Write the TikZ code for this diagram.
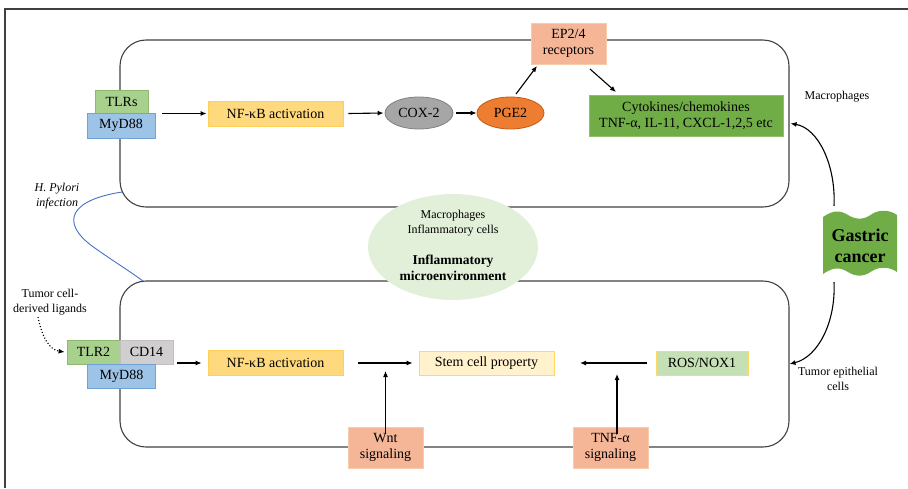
\documentclass[tikz,border=0pt]{standalone}
\usepackage{fontspec}
\setmainfont{Liberation Serif}
\usetikzlibrary{arrows.meta,shapes.geometric}
\definecolor{frameC}{HTML}{404040}
\definecolor{tlrG}{HTML}{A9D18E}
\definecolor{tlrGd}{HTML}{8DB870}
\definecolor{myB}{HTML}{9DC3E6}
\definecolor{myBd}{HTML}{6FA3D8}
\definecolor{nfY}{HTML}{FFD97D}
\definecolor{nfYd}{HTML}{FFCF5A}
\definecolor{coxG}{HTML}{A6A6A6}
\definecolor{coxGd}{HTML}{808080}
\definecolor{pgeO}{HTML}{ED7D31}
\definecolor{pgeOd}{HTML}{C55A11}
\definecolor{epS}{HTML}{F5B597}
\definecolor{epSd}{HTML}{F8CBAD}
\definecolor{cytG}{HTML}{70AD47}
\definecolor{cytGd}{HTML}{8CC168}
\definecolor{stemY}{HTML}{FFF2CC}
\definecolor{stemYd}{HTML}{FFD966}
\definecolor{rosG}{HTML}{C5E0B4}
\definecolor{cdG}{HTML}{D0CECE}
\definecolor{cdGd}{HTML}{BFBFBF}
\definecolor{ellG}{HTML}{E2F0D9}
\definecolor{pyB}{HTML}{4472C4}
\tikzset{
  boxtext/.style={font=\fontsize{14}{16.5}\selectfont, align=center, inner sep=0pt},
  pbox/.style={boxtext, draw, line width=0.8pt, rectangle},
  lbl/.style={font=\fontsize{12}{15}\selectfont, align=center, inner sep=0pt},
  arr/.style={-{Latex[length=6pt,width=5pt]}, line width=1.1pt, black},
  roundbox/.style={draw=frameC, line width=1.1pt, rounded corners=26pt, rectangle, inner sep=0pt}
}
\begin{document}
\begin{tikzpicture}[x=1pt,y=-1pt]
\useasboundingbox (0,0) rectangle (908,488);
% outer frame (top and left)
\coordinate (fl) at (5,488);
\coordinate (fc) at (5,9);
\coordinate (fr) at (908,9);
\draw[frameC, line width=1.6pt] (fl) -- (fc) -- (fr);

% the two rounded rectangles
\node[roundbox, minimum width=669pt, minimum height=167pt] (toprect) at (454.5,123.5) {};
\node[roundbox, minimum width=669pt, minimum height=166pt] (botrect) at (454.5,364) {};

% H. Pylori link
\coordinate (py1) at (122,192);
\coordinate (py2) at (143,281);
\draw[pyB, line width=0.9pt] (py1) .. controls (70,200) and (60,222) .. (92,246) .. controls (110,259) and (128,270) .. (py2);
\node[lbl, font=\fontsize{12}{15}\selectfont\itshape] (pylori) at (57,196) {H. Pylori\\infection};

% inflammatory ellipse
\node[ellipse, fill=ellG, minimum width=170pt, minimum height=106pt, inner sep=0pt] (infl) at (453,247) {};
\node[lbl] (inflcells) at (453,223) {Macrophages\\Inflammatory cells};
\node[lbl, font=\fontsize{13.5}{16.5}\selectfont\bfseries] (inflmicro) at (453,268) {Inflammatory\\microenvironment};

% top row
\node[pbox, fill=tlrG, draw=tlrGd, minimum width=53pt, minimum height=23pt] (tlrs) at (121.5,101.5) {TLRs};
\node[pbox, fill=myB, draw=myBd, minimum width=68pt, minimum height=25pt] (myd1) at (121,125.5) {MyD88};
\node[pbox, fill=nfY, draw=nfYd, minimum width=135pt, minimum height=25pt] (nf1) at (275.5,113.5) {NF-κB activation};
\node[boxtext, ellipse, draw=coxGd, line width=0.8pt, fill=coxG, minimum width=68pt, minimum height=32pt] (cox) at (419,113) {COX-2};
\node[boxtext, ellipse, draw=pgeOd, line width=0.8pt, fill=pgeO, minimum width=67pt, minimum height=32pt] (pge) at (510.5,113) {PGE2};
\node[pbox, fill=epS, draw=epSd, minimum width=75pt, minimum height=41pt] (ep) at (568.5,43.5) {EP2/4\\receptors};
\node[pbox, fill=cytG, draw=cytGd, minimum width=194pt, minimum height=41pt] (cyt) at (686,115.5) {Cytokines/chemokines\\TNF-α, IL-11, CXCL-1,2,5 etc};
\node[lbl] (macro) at (837,97) {Macrophages};

\draw[arr] ([xshift=7pt]myd1.east |- nf1.west) -- ([xshift=-1pt]nf1.west);
\draw[arr] ([xshift=5pt]nf1.east) -- ([xshift=-1pt]cox.west);
\draw[arr] ([xshift=3pt]cox.east) -- (pge.west);
\draw[arr] (516,94) -- (537,66);
\draw[arr] (590,69) -- (616,92);

% gastric cancer
\path[fill=cytG] (823,217) .. controls (833,210) and (840,210) .. (848,215) .. controls (856,220) and (864,220) .. (872,214) .. controls (880,209) and (890,210) .. (897,215) -- (897,272) .. controls (890,267) and (880,266) .. (872,271) .. controls (864,277) and (856,277) .. (848,272) .. controls (840,267) and (833,267) .. (823,274) -- cycle;
\node[font=\fontsize{18}{21}\selectfont\bfseries, align=center, inner sep=0pt] (gc) at (860,246) {Gastric\\cancer};
\coordinate (gct) at (834,206);
\coordinate (gcb) at (834,282);
\draw[arr] (gct) .. controls (836,165) and (818,128) .. ([xshift=1pt]toprect.east);
\draw[arr] (gcb) .. controls (836,322) and (818,357) .. ([xshift=0pt]botrect.east);
\node[lbl] (tumep) at (838,379) {Tumor epithelial\\cells};

% bottom row
\node[lbl] (ligands) at (50,302) {Tumor cell-\\derived ligands};
\node[pbox, fill=tlrG, draw=tlrGd, minimum width=53pt, minimum height=24pt] (tlr2) at (93.5,352) {TLR2};
\node[pbox, fill=cdG, draw=cdGd, minimum width=53pt, minimum height=24pt] (cd14) at (146.5,352) {CD14};
\node[pbox, fill=myB, draw=myBd, minimum width=68pt, minimum height=24pt] (myd2) at (121.5,376) {MyD88};
\node[pbox, fill=nfY, draw=nfYd, minimum width=135pt, minimum height=25pt] (nf2) at (275.5,363) {NF-κB activation};
\node[pbox, fill=stemY, draw=stemYd, minimum width=135pt, minimum height=24pt] (stem) at (486.5,363) {Stem cell property};
\node[pbox, fill=rosG, draw=stemYd, minimum width=92pt, minimum height=24pt] (ros) at (702,363) {ROS/NOX1};
\node[pbox, fill=epS, draw=epSd, minimum width=75pt, minimum height=41pt] (wnt) at (385.5,447.5) {Wnt\\signaling};
\node[pbox, fill=epS, draw=epSd, minimum width=75pt, minimum height=41pt] (tnf) at (610.5,447.5) {TNF-α\\signaling};

\draw[-{Latex[length=6pt,width=5pt]}, line width=1.1pt, dotted] (38,317) .. controls (42,338) and (50,350) .. ([xshift=-2pt]tlr2.west);
\draw[arr] ([xshift=4pt]cd14.east |- nf2.west) -- ([xshift=-6pt]nf2.west);
\coordinate (s1) at (358,363);
\draw[arr] (s1) -- ([xshift=-6pt]stem.west);
\coordinate (s2) at (580,363);
\draw[arr] ([xshift=-9pt]ros.west) -- (s2);
\coordinate (w1) at (385.5,371);
\draw[arr] ([yshift=-7pt]wnt.north) -- (w1);
\coordinate (t1) at (617,374);
\draw[arr] ([yshift=-7pt]tnf.north -| t1) -- (t1);
\end{tikzpicture}
\end{document}
